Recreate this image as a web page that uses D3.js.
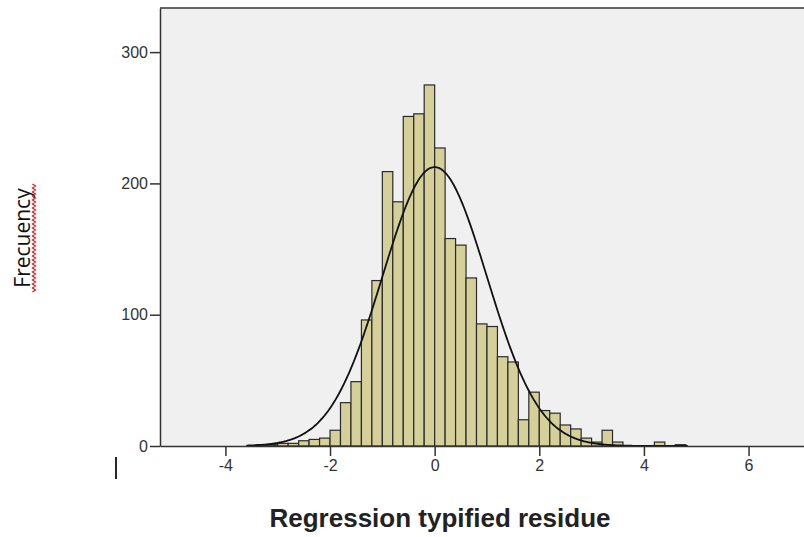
<!DOCTYPE html>
<html>
<head>
<meta charset="utf-8">
<script src="https://cdn.jsdelivr.net/npm/d3@7"></script>
<style>
  html, body { margin: 0; padding: 0; background: #ffffff; }
  svg { display: block; }
</style>
</head>
<body>
<svg id="chart" width="804" height="537"></svg>
<script>
// ---- Data ----
const binStarts = [-3.4,-3.2,-3.0,-2.8,-2.6,-2.4,-2.2,-2.0,-1.8,-1.6,-1.4,-1.2,-1.0,-0.8,-0.6,-0.4,-0.2,
                   0.0,0.2,0.4,0.6,0.8,1.0,1.2,1.4,1.6,1.8,2.0,2.2,2.4,2.6,2.8,3.0,3.2,3.4,3.6,3.8,4.0,4.2,4.4,4.6];
const counts    = [1,1,2,2,4,5,6,12,33,49,96,126,209,186,251,253,275,
                   227,158,153,128,93,91,68,64,20,41,27,25,16,13,6,3,12,3,0,0,0,3,0,1];
const binWidth = 0.2;
const normalMean = 0.0;
const normalSd = 1.0;
const xTicks = [-4,-2,0,2,4,6];
const yTicks = [0,100,200,300];
const xTitle = "Regression typified residue";
const yTitle = "Frecuency";

// ---- Layout ----
const svg = d3.select("#chart");
const plotLeft = 160, plotRight = 804, plotTop = 8, plotBottom = 446;
const x = d3.scaleLinear().domain([-5.25, 7.06]).range([plotLeft, plotRight]);
const y = d3.scaleLinear().domain([0, 333.6]).range([plotBottom, plotTop]);

// plot background
svg.append("rect")
  .attr("x", plotLeft).attr("y", plotTop)
  .attr("width", plotRight - plotLeft).attr("height", plotBottom - plotTop)
  .attr("fill", "#f0f0f0");

// bars
const bins = binStarts.map((s, i) => ({ x0: s, x1: s + binWidth, n: counts[i] }));
svg.append("g").selectAll("rect")
  .data(bins.filter(d => d.n > 0))
  .join("rect")
  .attr("x", d => x(d.x0))
  .attr("y", d => y(d.n))
  .attr("width", d => x(d.x1) - x(d.x0))
  .attr("height", d => y(0) - y(d.n))
  .attr("fill", "#d5d09a")
  .attr("stroke", "#2a2a2a")
  .attr("stroke-width", 1.2);

// normal curve
const total = d3.sum(counts);
const curvePts = d3.range(-3.6, 4.85, 0.02).map(v => {
  const z = (v - normalMean) / normalSd;
  const dens = Math.exp(-0.5 * z * z) / (normalSd * Math.sqrt(2 * Math.PI));
  return [v, total * binWidth * dens];
});
svg.append("path")
  .datum(curvePts)
  .attr("fill", "none")
  .attr("stroke", "#111")
  .attr("stroke-width", 1.8)
  .attr("d", d3.line().x(d => x(d[0])).y(d => y(d[1])).curve(d3.curveBasis));

// frame line (top)
svg.append("line").attr("x1", plotLeft).attr("x2", plotRight).attr("y1", plotTop).attr("y2", plotTop)
  .attr("stroke", "#333").attr("stroke-width", 1.5);

const tickFont = "Liberation Sans, Arial, sans-serif";
// axes
const xAxis = d3.axisBottom(x).tickValues(xTicks).tickSize(10).tickSizeOuter(0).tickPadding(4)
  .tickFormat(d => String(d));
const gx = svg.append("g").attr("transform", `translate(0,${plotBottom})`).call(xAxis);
gx.select(".domain").attr("stroke", "#333").attr("stroke-width", 1.5);
gx.selectAll(".tick line").attr("stroke", "#333").attr("stroke-width", 1.5);
gx.selectAll(".tick text").attr("font-family", tickFont)
  .attr("font-size", 16).attr("fill", "#333");

const yAxis = d3.axisLeft(y).tickValues(yTicks).tickSize(10).tickSizeOuter(0).tickPadding(2)
  .tickFormat(d => String(d));
const gy = svg.append("g").attr("transform", `translate(${plotLeft},0)`).call(yAxis);
gy.select(".domain").attr("stroke", "#333").attr("stroke-width", 1.5);
gy.selectAll(".tick line").attr("stroke", "#333").attr("stroke-width", 1.5);
gy.selectAll(".tick text").attr("font-family", tickFont)
  .attr("font-size", 16).attr("fill", "#333");

// x title
svg.append("text")
  .attr("x", 440).attr("y", 527)
  .attr("text-anchor", "middle")
  .attr("font-family", "Liberation Sans, Arial, sans-serif")
  .attr("font-weight", "bold")
  .attr("font-size", 26)
  .attr("fill", "#222")
  .text(xTitle);

// y title
svg.append("text")
  .attr("transform", "translate(30,238) rotate(-90)")
  .attr("text-anchor", "middle")
  .attr("font-family", "Open Sans, sans-serif")
  .attr("font-size", 21)
  .attr("fill", "#111")
  .text(yTitle);

// red spell-check squiggle beside the y title
const sqTop = 184, sqBottom = 292, sqX = 34;
const sqPts = d3.range(sqTop, sqBottom + 0.1, 2).map((v, i) => [sqX + (i % 2 ? 1.6 : -1.6), v]);
svg.append("path")
  .datum(sqPts)
  .attr("fill", "none")
  .attr("stroke", "#e01010")
  .attr("stroke-width", 1.1)
  .attr("d", d3.line().x(d => d[0]).y(d => d[1]));

// text cursor mark at bottom left
svg.append("line").attr("x1", 116).attr("x2", 116).attr("y1", 457).attr("y2", 479)
  .attr("stroke", "#111").attr("stroke-width", 1.8);
</script>
</body>
</html>
